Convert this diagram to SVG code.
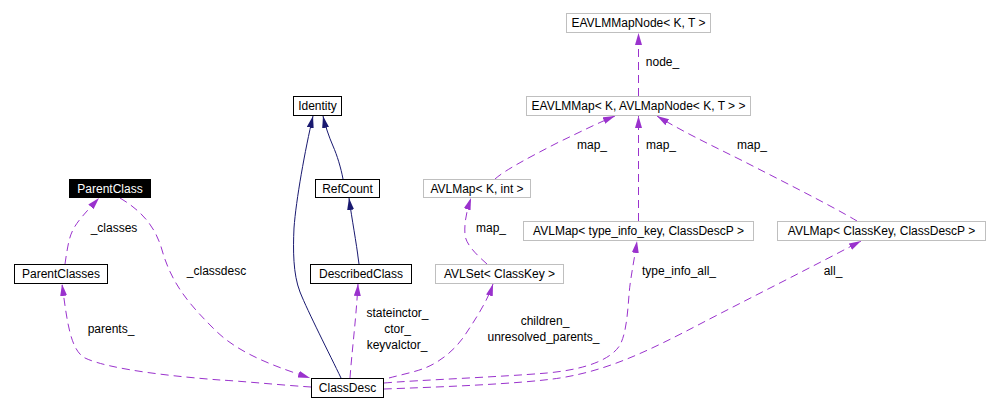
<svg xmlns="http://www.w3.org/2000/svg" width="998" height="411" viewBox="0 0 998 411">
<defs>
<marker id="ap" markerUnits="userSpaceOnUse" markerWidth="13" markerHeight="8" refX="12" refY="3.5" orient="auto"><path d="M0,0 L12,3.5 L0,7 z" fill="#9a32cd"/></marker>
<marker id="ab" markerUnits="userSpaceOnUse" markerWidth="13" markerHeight="8" refX="12" refY="3.5" orient="auto"><path d="M0,0 L12,3.5 L0,7 z" fill="#191970"/></marker>
<style>
text{font-family:"Liberation Sans",Arial,sans-serif;font-size:12px;fill:#000;text-anchor:middle}
.n rect{fill:#fff;stroke:#000;stroke-width:1}
.g rect{fill:#fff;stroke:#bfbfbf;stroke-width:1}
.sel rect{fill:#000;stroke:#000}
.sel text{fill:#fff}
.e path{fill:none}
.u{stroke:#9a32cd;stroke-dasharray:8,5;marker-end:url(#ap)}
.i{stroke:#191970;marker-end:url(#ab)}
</style>
</defs>
<rect width="998" height="411" fill="#fff"/>
<g id="edges" class="e">
<path class="i" d="M341,378 C330,355 308,312 300,292 C293,274 293,250 294,228 C296,200 305,150 313,116"/>
<path class="i" d="M343,179 C341,168 337,155 333,146 C329,137 325,125 323,116"/>
<path class="i" d="M359,264 C356,240 352,220 349,198"/>
<path class="u" d="M65,264 C67,250 69,238 72,232 C76,222 88,210 99,198"/>
<path class="u" d="M120,198 C140,210 155,225 162,250 C172,285 190,305 215,330 C240,355 280,368 310,378"/>
<path class="u" d="M311,387 C280,385 240,381 220,380 C180,377 110,370 85,358 C70,350 67,320 62,284"/>
<path class="u" d="M350,378 C352,350 356,320 358,284"/>
<path class="u" d="M389,378 C400,375 415,372 425,368 C440,362 455,350 465,335 C475,320 488,300 493,284"/>
<path class="u" d="M384,383 C420,380 500,377 547,373 C590,369 612,358 620,345 C628,330 628,300 630,285 C632,270 635,255 637,241"/>
<path class="u" d="M384,389 C440,387 520,384 560,378 C610,370 650,350 700,324 C750,298 810,268 861,241"/>
<path class="u" d="M638.5,221 L638.5,116"/>
<path class="u" d="M857,221 C830,205 780,180 745,162 C715,147 685,133 657,116"/>
<path class="u" d="M495,179 C505,170 530,157 557,143 C580,132 600,122 615,116"/>
<path class="u" d="M487,264 C478,256 466,245 465,235 C464,222 467,210 471,198"/>
<path class="u" d="M638.5,96 L638.5,33"/>
<text x="114" y="232">_classes</text>
<text x="216.5" y="275">_classdesc</text>
<text x="111" y="333">parents_</text>
<text x="397.5" y="317">stateinctor_</text>
<text x="397.5" y="333">ctor_</text>
<text x="397" y="349">keyvalctor_</text>
<text x="545" y="325">children_</text>
<text x="543.5" y="341">unresolved_parents_</text>
<text x="679" y="275">type_info_all_</text>
<text x="833" y="275">all_</text>
<text x="592" y="149">map_</text>
<text x="661" y="149">map_</text>
<text x="752" y="149">map_</text>
<text x="491" y="232">map_</text>
<text x="662.5" y="66">node_</text>
</g>
<g id="EAVLMMapNode" class="g"><rect x="566.5" y="13.5" width="144" height="19"/><text x="638.5" y="27">EAVLMMapNode&lt; K, T &gt;</text></g>
<g id="EAVLMMap" class="g"><rect x="526.5" y="96.5" width="224" height="19"/><text x="638.5" y="110">EAVLMMap&lt; K, AVLMapNode&lt; K, T &gt; &gt;</text></g>
<g id="Identity" class="n"><rect x="293.5" y="96.5" width="48" height="19"/><text x="317.5" y="110">Identity</text></g>
<g id="ParentClass" class="sel"><rect x="69.5" y="179.5" width="81" height="18"/><text x="110" y="193">ParentClass</text></g>
<g id="RefCount" class="n"><rect x="315.5" y="179.5" width="64" height="18"/><text x="347.5" y="193">RefCount</text></g>
<g id="AVLMapKint" class="g"><rect x="423.5" y="179.5" width="107" height="18"/><text x="477" y="193">AVLMap&lt; K, int &gt;</text></g>
<g id="AVLMapTypeInfo" class="g"><rect x="523.5" y="221.5" width="230" height="19"/><text x="638.5" y="235">AVLMap&lt; type_info_key, ClassDescP &gt;</text></g>
<g id="AVLMapClassKey" class="g"><rect x="777.5" y="221.5" width="208" height="19"/><text x="881.5" y="235">AVLMap&lt; ClassKey, ClassDescP &gt;</text></g>
<g id="ParentClasses" class="n"><rect x="14.5" y="264.5" width="93" height="19"/><text x="61" y="278">ParentClasses</text></g>
<g id="DescribedClass" class="n"><rect x="310.5" y="264.5" width="101" height="19"/><text x="361" y="278">DescribedClass</text></g>
<g id="AVLSet" class="g"><rect x="435.5" y="264.5" width="128" height="19"/><text x="499.5" y="278">AVLSet&lt; ClassKey &gt;</text></g>
<g id="ClassDesc" class="n"><rect x="311.5" y="378.5" width="72" height="19"/><text x="347.5" y="392">ClassDesc</text></g>
</svg>
